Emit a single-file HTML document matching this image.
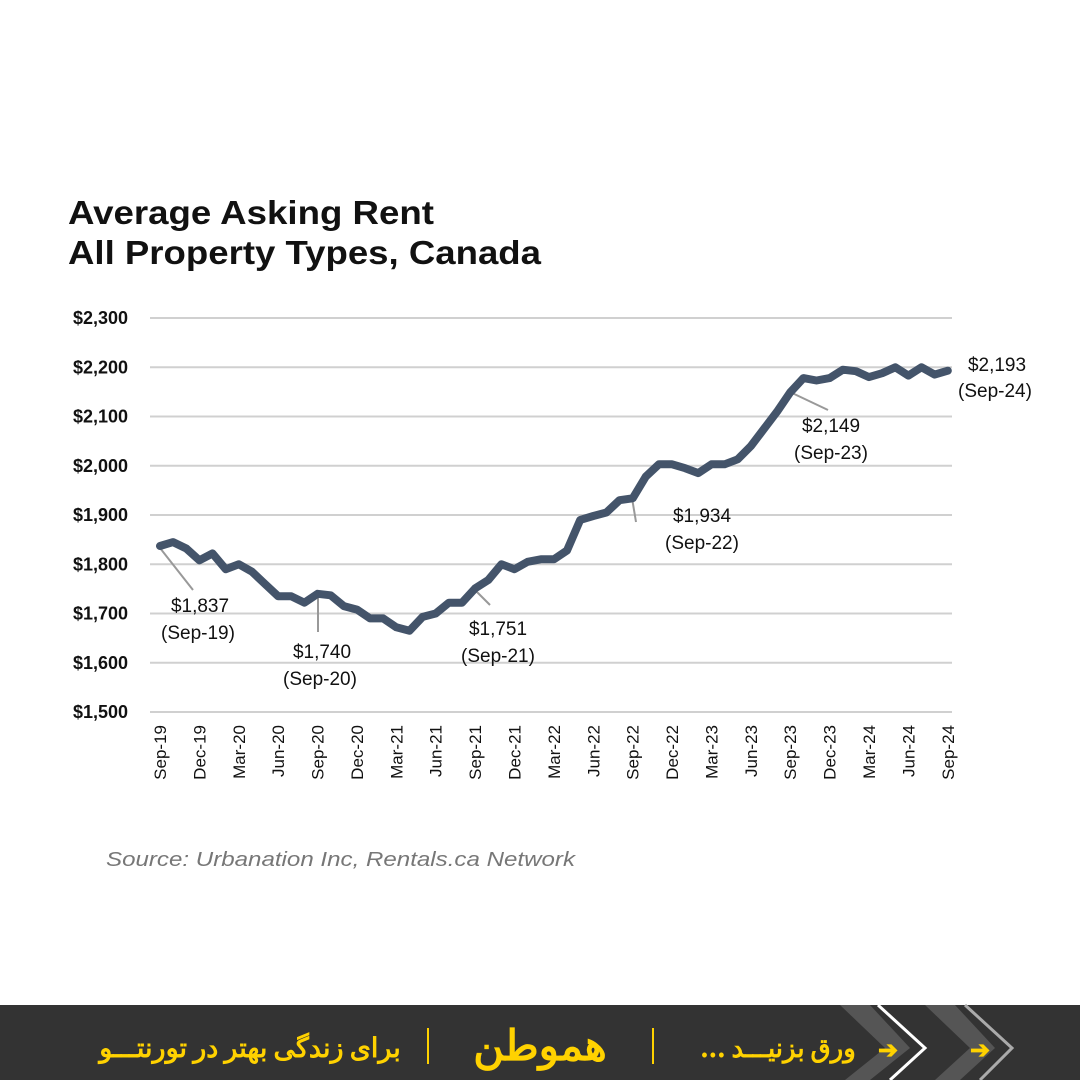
<!DOCTYPE html>
<html><head><meta charset="utf-8"><style>
body{margin:0;width:1080px;height:1080px;background:#fff;overflow:hidden;font-family:"Liberation Sans",Arial,sans-serif}
</style></head><body>
<svg width="1080" height="1080" xmlns="http://www.w3.org/2000/svg" style="position:absolute;left:0;top:0">
<rect width="1080" height="1080" fill="#fff"/>
<text x="68" y="224" font-size="33" font-weight="bold" fill="#111" font-family="Liberation Sans" textLength="366" lengthAdjust="spacingAndGlyphs">Average Asking Rent</text>
<text x="68" y="264" font-size="33" font-weight="bold" fill="#111" font-family="Liberation Sans" textLength="473" lengthAdjust="spacingAndGlyphs">All Property Types, Canada</text>
<g id="grid" stroke="#d0d0d0" stroke-width="2"></g>
<g id="ylab" font-size="18" font-weight="bold" fill="#111" text-anchor="end" font-family="Liberation Sans"></g>
<g id="xlab" font-size="17" fill="#111" text-anchor="end" font-family="Liberation Sans"></g>
<g stroke="#999" stroke-width="2" fill="none">
<line x1="160" y1="548" x2="193" y2="590"/>
<line x1="318" y1="598" x2="318" y2="632"/>
<line x1="475" y1="590" x2="490" y2="605"/>
<line x1="632" y1="498" x2="636" y2="522"/>
<line x1="790" y1="392" x2="828" y2="410"/>
</g>
<polyline id="ln" fill="none" stroke="#44546a" stroke-width="8" stroke-linejoin="round" stroke-linecap="round"/>
<g font-size="19" fill="#111" text-anchor="middle" font-family="Liberation Sans">
<text x="200" y="612">$1,837</text><text x="198" y="639">(Sep-19)</text>
<text x="322" y="658">$1,740</text><text x="320" y="685">(Sep-20)</text>
<text x="498" y="635">$1,751</text><text x="498" y="662">(Sep-21)</text>
<text x="702" y="522">$1,934</text><text x="702" y="549">(Sep-22)</text>
<text x="831" y="432">$2,149</text><text x="831" y="459">(Sep-23)</text>
<text x="997" y="371">$2,193</text><text x="995" y="397">(Sep-24)</text>
</g>
<text x="106" y="866" font-size="20" font-style="italic" fill="#777" font-family="Liberation Sans" textLength="469" lengthAdjust="spacingAndGlyphs">Source: Urbanation Inc, Rentals.ca Network</text>
<rect x="0" y="1005" width="1080" height="75" fill="#333"/>
<polygon points="840,1005 870,1005 910,1048 870,1080 845,1080 885,1048" fill="#555"/>
<polyline points="878,1005 925,1048 890,1080" fill="none" stroke="#fff" stroke-width="3"/>
<polygon points="925,1005 955,1005 995,1048 960,1080 935,1080 970,1048" fill="#555"/>
<polyline points="965,1005 1012,1048 980,1080" fill="none" stroke="#aaa" stroke-width="3"/>
<g fill="#ffd200" font-family="'Noto Sans CJK SC',sans-serif" text-anchor="middle">
<text x="980" y="1058" font-size="24" font-weight="bold">➔</text>
<text x="888" y="1058" font-size="24" font-weight="bold">➔</text>
<text x="778" y="1057" font-size="26" font-weight="bold" direction="rtl">ورق بزنیـــد ...</text>
<rect x="652" y="1028" width="2" height="36"/>
<text x="540" y="1060" font-size="42" font-weight="bold" direction="rtl">هموطن</text>
<rect x="427" y="1028" width="2" height="36"/>
<text x="250" y="1057" font-size="27" font-weight="bold" direction="rtl">برای زندگی بهتر در تورنتـــو</text>
</g>
</svg>
<script>
var d=[1837,1845,1832,1808,1822,1790,1800,1785,1760,1735,1735,1722,1740,1737,1715,1708,1690,1690,1672,1665,1693,1700,1722,1722,1751,1768,1800,1790,1805,1810,1810,1828,1890,1898,1905,1930,1934,1978,2003,2003,1995,1985,2003,2003,2013,2040,2075,2110,2149,2178,2173,2178,2195,2192,2180,2188,2200,2183,2200,2185,2193];
function X(i){return 160+i*13.13}function Y(v){return 318+(2300-v)*0.4925}
document.getElementById('ln').setAttribute('points',d.map(function(v,i){return X(i).toFixed(1)+','+Y(v).toFixed(1)}).join(' '));
var ns='http://www.w3.org/2000/svg',g=document.getElementById('grid'),yl=document.getElementById('ylab'),xl=document.getElementById('xlab');
for(var v=1500;v<=2300;v+=100){var y=Y(v);var l=document.createElementNS(ns,'line');l.setAttribute('x1',150);l.setAttribute('x2',952);l.setAttribute('y1',y);l.setAttribute('y2',y);g.appendChild(l);
var t=document.createElementNS(ns,'text');t.setAttribute('x',128);t.setAttribute('y',y+6);t.textContent='$'+Math.floor(v/1000)+','+String(v%1000).padStart(3,'0');yl.appendChild(t);}
var m=['Sep','Dec','Mar','Jun'];
for(var i=0;i<=60;i+=3){var k=(i/3)%4;var yr=19+Math.floor((i+8)/12);var t=document.createElementNS(ns,'text');var x=X(i)+6;t.setAttribute('transform','translate('+x+',725) rotate(-90)');t.textContent=m[k]+'-'+yr;xl.appendChild(t);}
</script>
</body></html>
